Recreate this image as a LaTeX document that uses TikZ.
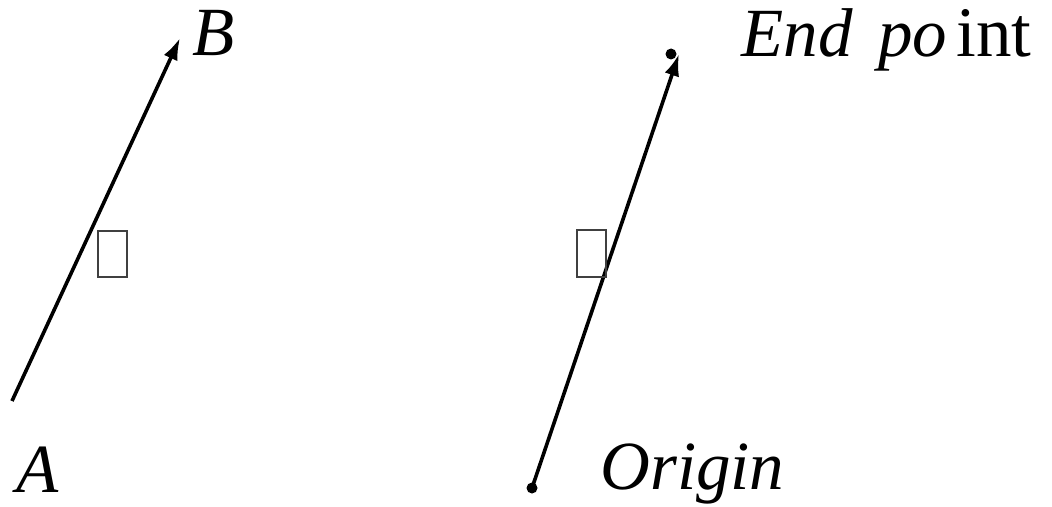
\documentclass[tikz,border=0pt]{standalone}
\usepackage{fontspec}
\setmainfont{Liberation Serif}
\usetikzlibrary{arrows.meta}
\begin{document}
\begin{tikzpicture}[x=0.5pt,y=-0.5pt,
  lbl/.style={inner sep=0pt,anchor=base west,font=\fontsize{34.5}{40}\selectfont\itshape},
  lblup/.style={inner sep=0pt,anchor=base west,font=\fontsize{35.5}{40}\selectfont},
  vec/.style={line width=1.8pt,-{Latex[length=11pt,width=7.5pt]}},
  gbox/.style={draw=black!75,line width=1pt,minimum width=14.5pt,minimum height=23pt,inner sep=0pt},
  dotpt/.style={circle,fill=black,draw=none,inner sep=0pt,minimum size=5.5pt}]
\useasboundingbox (0,0) rectangle (1052,507);
% left vector
\coordinate (a) at (12,401);
\coordinate (b) at (180,38);
\draw[vec] (a) -- (b);
\node[lbl] (lA) at (16,492) {A};
\node[lbl] (lB) at (192,56) {B};
\node[gbox] (box1) at (112.5,254) {};
% right vector
\node[dotpt] (o) at (532,488) {};
\coordinate (e) at (679,54);
\node[dotpt] (ep) at (671,54) {};
\draw[vec] (o.center) -- (e);
\node[gbox] (box2) at (591.5,253.5) {};
\node[lbl] (lorig) at (600,489) {Origin};
\node[lbl] (lend) at (741,57) {End};
\node[lbl] (lpo) at (878,57) {po};
\node[lblup] (lint) at (956,57) {int};
\end{tikzpicture}
\end{document}
